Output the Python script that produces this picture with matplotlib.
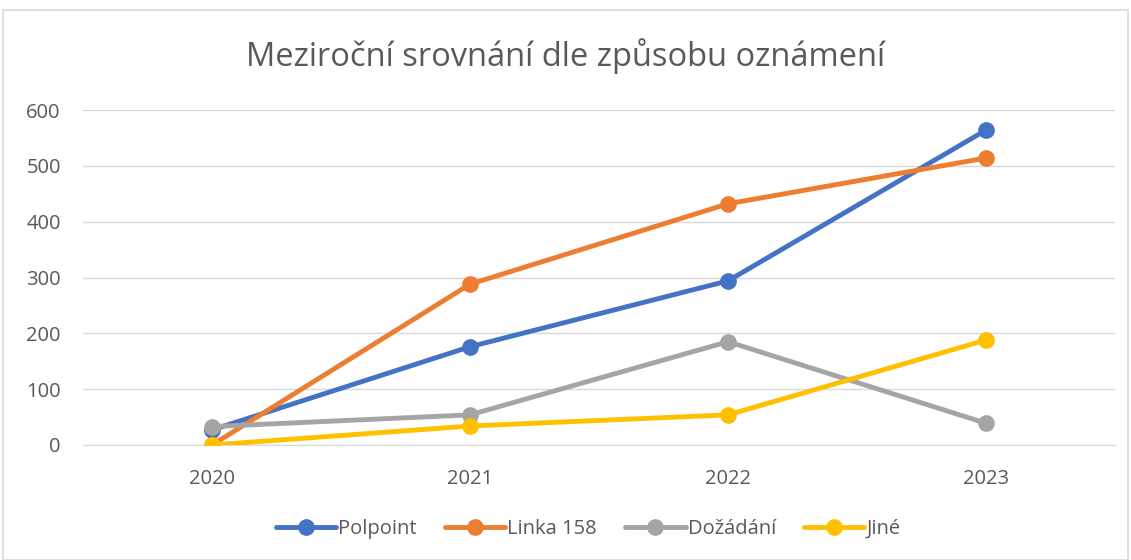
import matplotlib.pyplot as plt
from matplotlib.patches import Rectangle

years = ["2020", "2021", "2022", "2023"]
polpoint = [27, 176, 294, 564]
linka_158 = [0, 288, 432, 514]
dozadani = [33, 54, 185, 39]
jine = [0, 34, 54, 188]

SERIES = [
    ("Polpoint", polpoint, "#4472C4"),
    ("Linka 158", linka_158, "#ED7D31"),
    ("Dožádání", dozadani, "#A5A5A5"),
    ("Jiné", jine, "#FFC000"),
]
TEXT_COLOR = "#595959"

plt.rcParams['font.family'] = ['Open Sans', 'DejaVu Sans']

fig = plt.figure(figsize=(11.31, 5.6), dpi=100)
ax = fig.add_axes([83 / 1131, 1 - 445 / 560, (1115 - 83) / 1131, (445 - 110) / 560])

# chart border
fig.patches.append(Rectangle((3 / 1131, 0), 1 - 6 / 1131, 1 - 10 / 560,
                             transform=fig.transFigure, fill=False,
                             edgecolor="#D9D9D9", linewidth=1.2))

x = range(len(years))
for name, values, color in SERIES:
    ax.plot(x, values, color=color, linewidth=3.5, marker="o",
            markersize=11, label=name, solid_capstyle="round", zorder=3)

ax.set_xlim(-0.5, len(years) - 0.5)
ax.set_ylim(0, 600)
ax.set_yticks(range(0, 601, 100))
ax.set_xticks(list(x))
ax.set_xticklabels(years)
ax.grid(axis="y", color="#D9D9D9", linewidth=1)
ax.set_axisbelow(True)
for side in ["top", "right", "left"]:
    ax.spines[side].set_visible(False)
ax.spines["bottom"].set_color("#D9D9D9")
ax.tick_params(length=0, labelsize=14.5, colors=TEXT_COLOR)
ax.tick_params(axis="y", pad=16)
ax.tick_params(axis="x", pad=17)

fig.text(0.5, 1 - 56 / 560, "Meziroční srovnání dle způsobu oznámení",
         ha="center", va="center", fontsize=23.5, color=TEXT_COLOR)

fig.legend(loc="center", bbox_to_anchor=(0.52, 1 - 529 / 560), ncol=4,
           frameon=False, fontsize=14.5, labelcolor=TEXT_COLOR,
           handlelength=3.0, columnspacing=1.4, handletextpad=0.1)

fig.savefig("out.png", dpi=100)
